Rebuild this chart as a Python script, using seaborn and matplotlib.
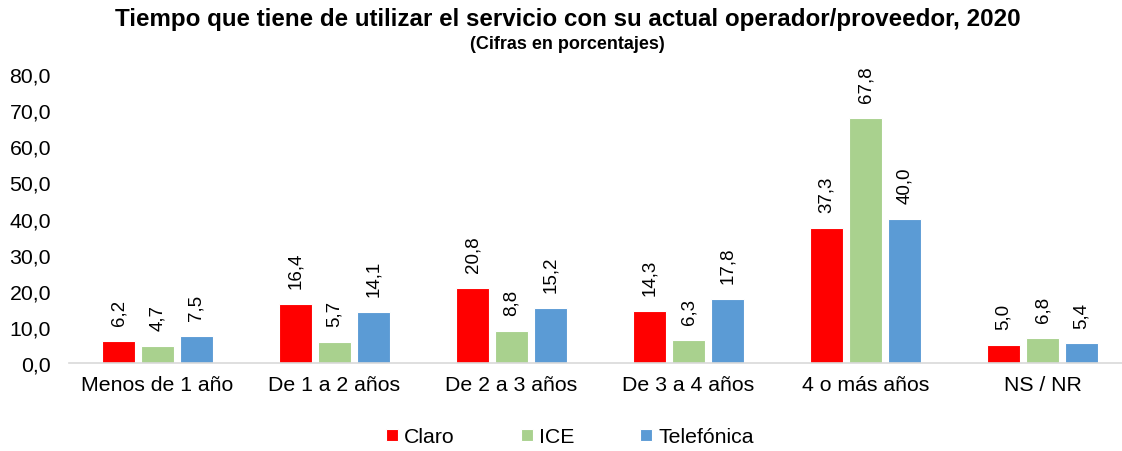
import matplotlib
matplotlib.use("Agg")
import matplotlib.pyplot as plt
import seaborn as sns
import pandas as pd
from matplotlib.ticker import FuncFormatter

categories = ["Menos de 1 año", "De 1 a 2 años", "De 2 a 3 años", "De 3 a 4 años", "4 o más años", "NS / NR"]
claro = [6.2, 16.4, 20.8, 14.3, 37.3, 5.0]
ice = [4.7, 5.7, 8.8, 6.3, 67.8, 6.8]
telefonica = [7.5, 14.1, 15.2, 17.8, 40.0, 5.4]
series_names = ["Claro", "ICE", "Telefónica"]
colors = ["#FF0000", "#A9D18E", "#5B9BD5"]
yticks = [0, 10, 20, 30, 40, 50, 60, 70, 80]

rows = []
for name, vals in zip(series_names, [claro, ice, telefonica]):
    for c, v in zip(categories, vals):
        rows.append({"cat": c, "op": name, "val": v})
df = pd.DataFrame(rows)

sns.set_theme(style="white")
plt.rcParams['font.family'] = ['Liberation Sans', 'DejaVu Sans']
plt.rcParams['text.color'] = '#000000'

fig = plt.figure(figsize=(11.22, 4.52), dpi=100)
ax = fig.add_axes([0.0615, 0.1947, 0.9385, 0.639])
sns.barplot(data=df, x="cat", y="val", hue="op", order=categories, hue_order=series_names,
            palette=colors, width=0.66, gap=0.16, ax=ax, edgecolor="white", linewidth=0.8,
            errorbar=None, saturation=1)

for cont in ax.containers:
    labels = [f"{v:.1f}".replace(".", ",") for v in cont.datavalues]
    ax.bar_label(cont, labels=labels, rotation=90, padding=11.5, fontsize=13.5, color="#000000")

ax.set_ylim(0, 80)
ax.set_xlim(-0.5, 5.449)
ax.set_yticks(yticks)
ax.yaxis.set_major_formatter(FuncFormatter(lambda v, p: f"{v:.1f}".replace(".", ",")))
ax.tick_params(axis="y", labelsize=15.3, length=0, pad=13, colors="#000000")
ax.tick_params(axis="x", labelsize=15.3, length=0, pad=9, colors="#000000")
ax.set_xlabel("")
ax.set_ylabel("")
for s in ["top", "right", "left"]:
    ax.spines[s].set_visible(False)
ax.spines["bottom"].set_color("#D9D9D9")
ax.spines["bottom"].set_linewidth(1.2)

for t in ax.texts:
    t.set_clip_on(False)

leg = ax.legend(loc="center", bbox_to_anchor=(0.508, 0.031), bbox_transform=fig.transFigure,
                ncol=3, frameon=False,
                fontsize=15.3, handlelength=0.55, handleheight=0.55, handletextpad=0.3,
                columnspacing=3.1)
for txt in leg.get_texts():
    txt.set_color("#000000")

fig.text(0.506, 0.957, "Tiempo que tiene de utilizar el servicio con su actual operador/proveedor, 2020",
         ha="center", va="center", fontsize=17.4, fontweight="bold", color="#000000")
fig.text(0.506, 0.902, "(Cifras en porcentajes)", ha="center", va="center", fontsize=13,
         fontweight="bold", color="#000000")

fig.savefig("out.png", dpi=100)
